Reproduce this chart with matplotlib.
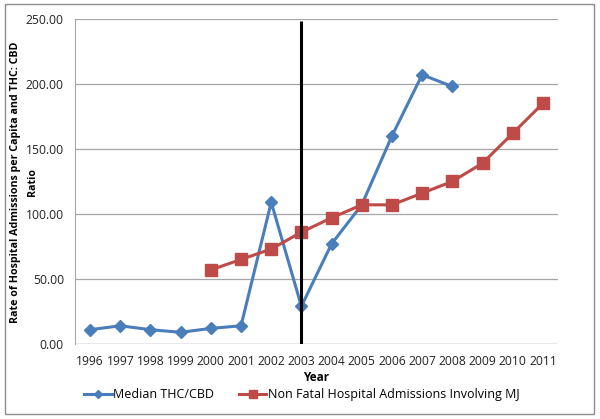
import matplotlib.pyplot as plt
from matplotlib.patches import Rectangle

years = [str(y) for y in range(1996, 2012)]
thc_years = years[:13]
thc_cbd = [11, 14, 11, 9, 12, 14, 109, 29, 77, 107, 160, 207, 198]
admit_years = years[4:]
admissions = [57, 65, 73, 86, 97, 107, 107, 116, 125, 139, 162, 185]
marker_year = "2003"

plt.rcParams["font.family"] = ["Open Sans", "DejaVu Sans"]

fig = plt.figure(figsize=(6.0, 4.19), dpi=100, facecolor="white")
ax = fig.add_axes([0.125, 0.179, 0.805, 0.776])

xi = {y: i for i, y in enumerate(years)}
ax.plot([xi[y] for y in thc_years], thc_cbd, color="#4A7EBB", lw=2.2,
        marker="D", ms=6, label="Median THC/CBD", zorder=3)
ax.plot([xi[y] for y in admit_years], admissions, color="#BE4B48", lw=2.2,
        marker="s", ms=8, label="Non Fatal Hospital Admissions Involving MJ", zorder=3)
ax.vlines(xi[marker_year], 0, 248, color="black", lw=2.2, zorder=4)

ax.set_xlim(-0.5, len(years) - 0.5)
ax.set_ylim(0, 250)
ax.set_yticks(range(0, 251, 50))
ax.set_yticklabels([f"{v:.2f}" for v in range(0, 251, 50)])
ax.set_xticks(range(len(years)))
ax.set_xticklabels(years)
ax.tick_params(axis="both", length=0, labelsize=8.7, colors="#222222", pad=8)
ax.yaxis.grid(True, color="#A6A6A6", lw=0.9)
ax.set_axisbelow(True)
for side in ["top", "right", "bottom"]:
    ax.spines[side].set_visible(False)
ax.spines["left"].set_color("#A6A6A6")
ax.axhline(0, color="#A6A6A6", lw=0.9)

ax.set_xlabel("Year", fontsize=8.5, fontweight="bold", labelpad=2)
# y label written as two texts so "Ratio" can sit between the tick labels
fig.text(0.026, 0.566, "Rate of Hospital Admissions per Capita and THC: CBD",
         rotation=90, ha="center", va="center", fontsize=7.7, fontweight="bold")
fig.text(0.054, 0.566, "Ratio",
         rotation=90, ha="center", va="center", fontsize=7.7, fontweight="bold")

fig.legend(loc="center", bbox_to_anchor=(0.503, 0.058), ncol=2, frameon=False,
           fontsize=9, handlelength=2.2, handletextpad=0.1, columnspacing=2.0,
           markerscale=0.7, borderpad=0)

fig.patches.append(Rectangle((0.008, 0.012), 0.982, 0.978, transform=fig.transFigure,
                             fill=False, edgecolor="#8C8C8C", lw=1.0))

fig.savefig("out.png", dpi=100, facecolor="white")
